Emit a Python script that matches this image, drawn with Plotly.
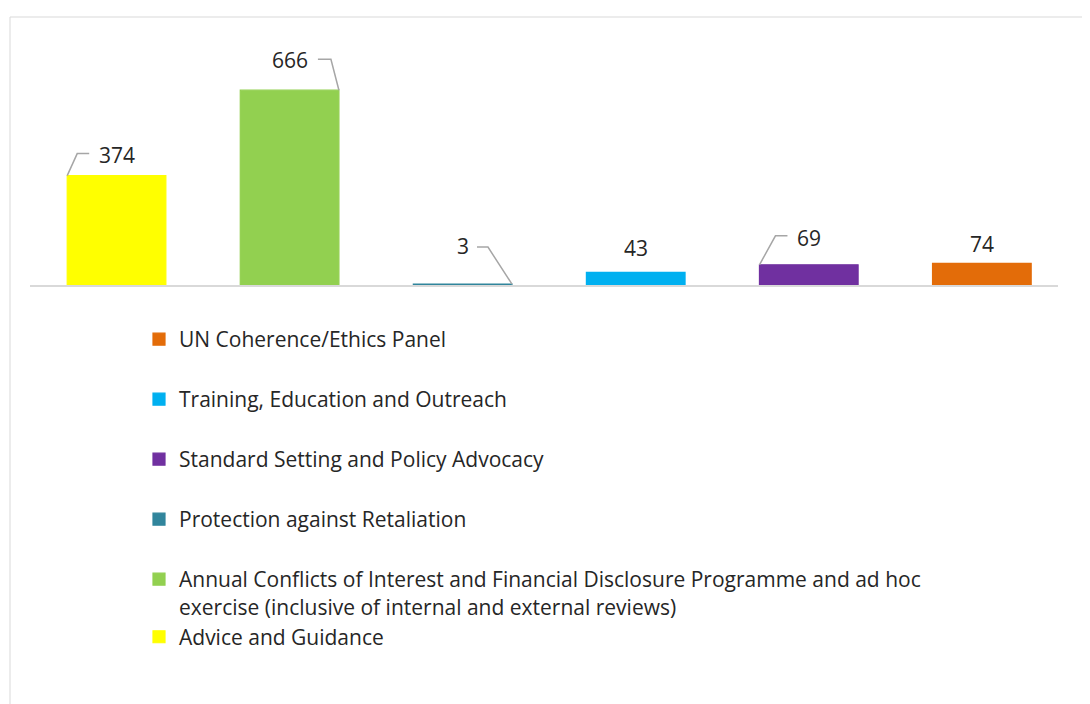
import plotly.graph_objects as go

# categories in bar order (left to right)
categories = [
    "Advice and Guidance",
    "Annual Conflicts of Interest and Financial Disclosure Programme and ad hoc<br>exercise (inclusive of internal and external reviews)",
    "Protection against Retaliation",
    "Training, Education and Outreach",
    "Standard Setting and Policy Advocacy",
    "UN Coherence/Ethics Panel",
]
values = [374, 666, 3, 43, 69, 74]
colors = ["#FFFF00", "#92D050", "#31859C", "#00B0F0", "#7030A0", "#E36C09"]

# order used in the legend (indices into categories)
legend_order = [5, 3, 4, 2, 1, 0]

# layout geometry (page has an 8px body margin, so figure px = screen px - 8)
W, H = 1090, 704
M_L, M_R, M_T, M_B = 22, 40, 12, 427
X_RANGE = [-0.5, 5.44]
Y_RANGE = [0, 906]
BAR_W = 0.57
plot_w = W - M_L - M_R
plot_h = H - M_T - M_B
ppx = plot_w / (X_RANGE[1] - X_RANGE[0])
ppy = plot_h / (Y_RANGE[1] - Y_RANGE[0])

# label lift above bar top (px) and leader lines: (bar idx, corner side, dx, dy, horiz len) in px
label_lift = [21, 30, 38, 24, 27, 19]
leaders = [(0, -1, 10, 22, 12), (1, 1, -8, 31, -13), (2, 1, -24, 37, -11), (4, -1, 16, 29, 12)]

fig = go.Figure()

for i in legend_order:
    grp = "g_last" if i in (0, 1) else "g%d" % i
    fig.add_trace(go.Bar(
        x=[i], y=[values[i]], width=BAR_W,
        marker=dict(color=colors[i], line=dict(width=1.2, color=colors[i])),
        name=categories[i], legendgroup=grp,
        hoverinfo="skip",
    ))

for idx, side, dx, dy, hl in leaders:
    cx = idx + side * BAR_W / 2
    cy = values[idx]
    ex = cx + dx / ppx
    ey = cy + dy / ppy
    fig.add_trace(go.Scatter(
        x=[cx, ex, ex + hl / ppx], y=[cy, ey, ey], mode="lines",
        line=dict(color="#A6A6A6", width=1.5),
        showlegend=False, hoverinfo="skip",
    ))

for i, v in enumerate(values):
    fig.add_annotation(
        x=i, y=v, text=str(v), showarrow=False,
        xanchor="center", yanchor="middle", yshift=label_lift[i],
        font=dict(family="Open Sans", size=21, color="#262626"),
    )

# outer chart border (only top and left visible)
fig.add_shape(type="rect", xref="paper", yref="paper",
              x0=(2 - M_L) / plot_w, x1=1.2,
              y0=-2, y1=(H - M_B - 9) / plot_h,
              line=dict(color="#D9D9D9", width=1), layer="below")

fig.update_layout(
    width=W, height=H,
    margin=dict(l=M_L, r=M_R, t=M_T, b=M_B, autoexpand=False),
    paper_bgcolor="white", plot_bgcolor="white",
    barmode="overlay",
    font=dict(family="Open Sans", color="#262626"),
    xaxis=dict(range=X_RANGE, showticklabels=False, showgrid=False, zeroline=False,
               showline=True, linecolor="#D9D9D9", linewidth=2, ticks="",
               layer="below traces", fixedrange=True),
    yaxis=dict(range=Y_RANGE, visible=False, showgrid=False, zeroline=False, fixedrange=True),
    showlegend=True,
    legend=dict(
        xref="container", yref="container",
        x=131 / W, y=1 - 311 / H, xanchor="left", yanchor="top",
        traceorder="grouped", tracegroupgap=29.7, valign="top",
        font=dict(family="Open Sans", size=21, color="#262626"),
        itemclick=False, itemdoubleclick=False,
    ),
)

fig.write_html("out.html")
